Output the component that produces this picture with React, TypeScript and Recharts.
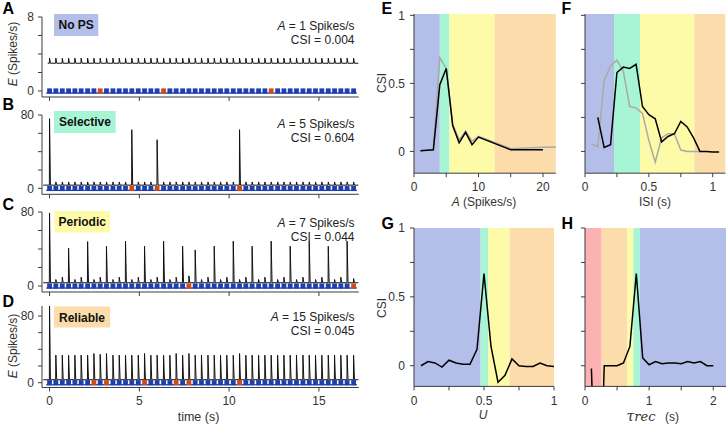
import React from 'react';
import { ComposedChart, Line, Scatter, XAxis, YAxis, ReferenceArea } from 'recharts';

const FONT = '"Liberation Sans", Arial, Helvetica, sans-serif';
const AX = '#3c3c3c';
const BLUE_SQ = '#1e3fae';
const RED_SQ = '#cf4b1b';
const C_BLUE = '#b3bee9';
const C_GREEN = '#a7f5d5';
const C_YELLOW = '#fdfba8';
const C_ORANGE = '#fcdcaa';
const C_RED = '#fcb2b2';

// ---- panels A-D : input spike times (s) ----
const spikeTimes = [0, 0.35, 0.71, 1.06, 1.41, 1.76, 2.12, 2.47, 2.82, 3.17, 3.53, 3.88, 4.23, 4.58, 4.94, 5.29, 5.64, 5.99, 6.35, 6.70, 7.05, 7.41, 7.76, 8.11, 8.46, 8.82, 9.17, 9.52, 9.87, 10.23, 10.58, 10.93, 11.28, 11.64, 11.99, 12.34, 12.70, 13.05, 13.40, 13.75, 14.11, 14.46, 14.81, 15.16, 15.52, 15.87, 16.22, 16.57, 16.93];

// peak E values (Spikes/s) at each input
const heightsA = [3.55, 3.55, 3.55, 3.55, 3.55, 3.55, 3.55, 3.55, 3.55, 3.55, 3.55, 3.55, 3.55, 3.55, 3.55, 3.55, 3.55, 3.55, 3.55, 3.55, 3.55, 3.55, 3.55, 3.55, 3.55, 3.55, 3.55, 3.55, 3.55, 3.55, 3.55, 3.55, 3.55, 3.55, 3.55, 3.55, 3.55, 3.55, 3.55, 3.55, 3.55, 3.55, 3.55, 3.55, 3.55, 3.55, 3.55, 3.55, 3.55];
const heightsB = [76, 7, 7, 7, 7, 7, 7, 7, 7, 7, 7, 7, 7, 64, 7, 7, 7, 53, 7, 7, 7, 7, 7, 7, 7, 7, 7, 7, 7, 7, 64, 7, 7, 7, 7, 7, 7, 7, 7, 7, 7, 7, 7, 7, 7, 7, 7, 7, 7];
const heightsC = [79, 7, 9.5, 41, 7, 9.5, 48, 7, 9.5, 43, 7, 9.5, 48.5, 7, 9.5, 43, 7, 9.5, 48.5, 7, 9.5, 43, 11, 39, 7, 9.5, 43, 7, 9.5, 48.5, 7, 9.5, 43, 7, 9.5, 48.5, 7, 9.5, 43, 7, 9.5, 48.5, 7, 9.5, 43, 7, 9.5, 48.5, 8];
const heightsD = [92, 33, 33, 33, 33, 33, 33, 35, 34, 35, 33, 33, 33, 33, 33, 35, 33, 33, 33, 33, 35, 33, 35, 33, 33, 33, 33, 33, 33, 33, 35, 33, 33, 33, 33, 33, 33, 33, 33, 33, 33, 33, 33, 33, 33, 33, 33, 33, 33];
const baseA = 3.0;
const baseBCD = 3.5;
// indices of inputs marked red (population spikes)
const redA = [8, 18, 35];
const redB = [13, 17, 30];
const redC = [22, 48];
const redD = [7, 9, 15, 20, 22, 30];

// ---- panel E ----
const eBlackX = [1, 3, 4, 5, 6, 7, 8, 9, 10, 15, 20];
const eBlackY = [0.005, 0.012, 0.49, 0.61, 0.19, 0.063, 0.14, 0.05, 0.105, 0.012, 0.012];
const eGrayX = [1, 3, 4, 5, 6, 7, 8, 9, 10, 15, 20, 25];
const eGrayY = [0.005, 0.012, 0.69, 0.61, 0.2, 0.085, 0.15, 0.075, 0.11, 0.02, 0.03, 0.035];
// ---- panel F ----
const fBlackX = [0.1, 0.15, 0.2, 0.25, 0.3, 0.35, 0.4, 0.45, 0.5, 0.55, 0.6, 0.65, 0.7, 0.75, 0.8, 0.85, 0.9, 0.95, 1.0, 1.05];
const fBlackY = [0.25, 0.03, 0.05, 0.58, 0.62, 0.61, 0.64, 0.33, 0.27, 0.24, 0.07, 0.11, 0.13, 0.22, 0.18, 0.1, 0.0, 0.0, -0.005, -0.005];
const fGrayX = [0.05, 0.1, 0.15, 0.2, 0.25, 0.3, 0.35, 0.4, 0.45, 0.5, 0.55, 0.6, 0.65, 0.7, 0.75, 0.8, 0.85, 0.9];
const fGrayY = [0.055, 0.035, 0.52, 0.63, 0.67, 0.59, 0.33, 0.32, 0.28, 0.08, -0.08, 0.1, 0.13, 0.13, 0.01, 0.0, 0.0, 0.0];
// ---- panel G ----
const gX = [0.05, 0.1, 0.15, 0.2, 0.25, 0.3, 0.35, 0.4, 0.45, 0.5, 0.55, 0.6, 0.65, 0.7, 0.75, 0.8, 0.85, 0.9, 0.95, 1.0];
const gY = [0, 0.03, 0.02, -0.01, 0.04, 0.02, 0.01, 0.01, 0.12, 0.67, 0.14, -0.12, -0.07, 0.05, 0.0, -0.005, -0.005, 0.02, 0.0, -0.005];
// ---- panel H ----
const hX = [0.1, 0.2, 0.3, 0.4, 0.5, 0.6, 0.7, 0.8, 0.9, 1.0, 1.1, 1.2, 1.3, 1.4, 1.5, 1.6, 1.7, 1.8, 1.9, 2.0];
const hY = [-0.02, -1.5, 0, 0, 0, 0.02, 0.14, 0.67, 0.056, 0.007, 0.03, 0.015, 0.02, 0.02, 0.015, 0.03, 0.02, 0.03, 0, 0];

type Band = [number, number, string];
const bandsE: Band[] = [[0, 4, C_BLUE], [4, 5.5, C_GREEN], [5.5, 12.5, C_YELLOW], [12.5, 22, C_ORANGE]];
const bandsF: Band[] = [[0, 0.227, C_BLUE], [0.227, 0.431, C_GREEN], [0.431, 0.856, C_YELLOW], [0.856, 1.1, C_ORANGE]];
const bandsG: Band[] = [[0, 0.476, C_BLUE], [0.476, 0.529, C_GREEN], [0.529, 0.683, C_YELLOW], [0.683, 1, C_ORANGE]];
const bandsH: Band[] = [[0, 0.26, C_RED], [0.26, 0.66, C_ORANGE], [0.66, 0.753, C_YELLOW], [0.753, 0.857, C_GREEN], [0.857, 2.2, C_BLUE]];

const tickStyle = { fontSize: 12, fill: '#333', fontFamily: FONT };

function buildTrace(heights: number[], base: number, start: number, end: number) {
  const pts: { t: number; v: number }[] = [{ t: start, v: base }];
  heights.forEach((h, i) => {
    const t = spikeTimes[i];
    pts.push({ t: t - 0.01, v: base }, { t, v: h }, { t: t + 0.05, v: base });
  });
  pts.push({ t: end, v: base });
  return pts;
}

function squares(reds: number[], wantRed: boolean) {
  return spikeTimes
    .map((t, i) => ({ t, y: 0, i }))
    .filter((d) => reds.includes(d.i) === wantRed);
}

const makeSquare = (color: string) => (props: any) => {
  const { cx, cy } = props;
  if (cx == null || cy == null) return <g />;
  return (
    <g>
      <rect x={cx - 3.3} y={cy + 1.4} width={6.6} height={1.3} fill={BLUE_SQ} />
      <rect x={cx - 2.4} y={cy - 2.6} width={4.8} height={5.2} fill={color} />
    </g>
  );
};
const BlueSquare = makeSquare(BLUE_SQ);
const RedSquare = makeSquare(RED_SQ);

type LeftProps = {
  plotTop: number;
  plotBottom: number;
  yDomain: [number, number];
  yTicks: number[];
  yLabeled: number[];
  heights: number[];
  base: number;
  reds: number[];
  showX: boolean;
  start: number;
};

function LeftPanel(p: LeftProps) {
  const W = 42, mt = 10, mr = 10, xh = 30;
  const px0 = 41.5, px1 = 358.3;
  const width = px1 - px0 + W + mr;
  const height = p.plotBottom - p.plotTop + mt + xh;
  const trace = buildTrace(p.heights, p.base, p.start, 17.2);
  return (
    <div style={{ position: 'absolute', left: px0 - W, top: p.plotTop - mt }}>
      <ComposedChart width={width} height={height} margin={{ top: mt, right: mr, left: 0, bottom: 0 }}>
        <XAxis type="number" dataKey="t" domain={[-0.42, 17.22]} allowDataOverflow ticks={[0, 5, 10, 15]} interval={0}
          tickSize={4} tickMargin={5} height={xh} tick={tickStyle}
          tickFormatter={(v: number) => (p.showX ? String(v) : '')}
          axisLine={{ stroke: AX }} tickLine={{ stroke: AX }} />
        <YAxis type="number" domain={p.yDomain} allowDataOverflow ticks={p.yTicks} interval={0} width={W}
          tickSize={4} tickMargin={4} tick={tickStyle}
          tickFormatter={(v: number) => (p.yLabeled.includes(v) ? String(v) : '')}
          axisLine={{ stroke: AX }} tickLine={{ stroke: AX }} />
        <Line data={trace} dataKey="v" type="linear" stroke="#111" strokeWidth={1} dot={false} isAnimationActive={false} />
        <Scatter data={squares(p.reds, false)} dataKey="y" shape={BlueSquare} isAnimationActive={false} />
        <Scatter data={squares(p.reds, true)} dataKey="y" shape={RedSquare} isAnimationActive={false} />
      </ComposedChart>
    </div>
  );
}

type Series = { x: number[]; y: number[]; color: string };
type RightProps = {
  px0: number; px1: number; py0: number; py1: number;
  xDomain: [number, number]; xTicks: number[]; xLabeled: number[];
  yDomain: [number, number]; yLabeled: boolean;
  bands: Band[]; series: Series[]; xMargin: number;
};

function RightPanel(p: RightProps) {
  const W = 40, mt = 10, mr = 10, xh = 30;
  const width = p.px1 - p.px0 + W + mr;
  const height = p.py1 - p.py0 + mt + xh;
  return (
    <div style={{ position: 'absolute', left: p.px0 - W, top: p.py0 - mt }}>
      <ComposedChart width={width} height={height} margin={{ top: mt, right: mr, left: 0, bottom: 0 }}>
        <XAxis type="number" dataKey="t" domain={p.xDomain} allowDataOverflow ticks={p.xTicks} interval={0}
          tickSize={4} tickMargin={p.xMargin} height={xh} tick={tickStyle}
          tickFormatter={(v: number) => (p.xLabeled.includes(v) ? String(v) : '')}
          axisLine={{ stroke: AX }} tickLine={{ stroke: AX }} />
        <YAxis type="number" domain={p.yDomain} allowDataOverflow ticks={[0, 0.25, 0.5, 0.75, 1]} interval={0} width={W}
          tickSize={4} tickMargin={5} tick={tickStyle}
          tickFormatter={(v: number) => (p.yLabeled && (v === 0 || v === 0.5 || v === 1) ? String(v) : '')}
          axisLine={{ stroke: AX }} tickLine={{ stroke: AX }} />
        {p.bands.map(([a, b, c], i) => (
          <ReferenceArea key={i} x1={a} x2={b} fill={c} fillOpacity={1} stroke="none" ifOverflow="hidden" />
        ))}
        {p.series.map((s, i) => (
          <Line key={i} data={s.x.map((t, j) => ({ t, v: s.y[j] }))} dataKey="v" type="linear"
            stroke={s.color} strokeWidth={1.5} dot={false} isAnimationActive={false} />
        ))}
      </ComposedChart>
    </div>
  );
}

const GRAY = '#a9a9a9';
const BLACK = '#000';

function Overlay() {
  const letter = { fontSize: 16, fontWeight: 700, fill: '#000', fontFamily: FONT } as const;
  const boxText = { fontSize: 12, fontWeight: 700, fill: '#111', fontFamily: FONT } as const;
  const ann = { fontSize: 12, fill: '#222', fontFamily: FONT } as const;
  const lab = { fontSize: 12, fill: '#333', fontFamily: FONT } as const;
  return (
    <svg width={728} height={427} style={{ position: 'absolute', left: 0, top: 0, pointerEvents: 'none' }}>
      <text x={2.5} y={13.5} {...letter}>A</text>
      <text x={2.5} y={110} {...letter}>B</text>
      <text x={2.5} y={210} {...letter}>C</text>
      <text x={2.5} y={306.5} {...letter}>D</text>
      <text x={381.5} y={13.5} {...letter}>E</text>
      <text x={561.5} y={13.5} {...letter}>F</text>
      <text x={381.5} y={228.5} {...letter}>G</text>
      <text x={561.5} y={228.5} {...letter}>H</text>

      <rect x={54} y={14} width={44.3} height={22} fill={C_BLUE} />
      <text x={76.2} y={29.3} textAnchor="middle" {...boxText}>No PS</text>
      <rect x={54} y={111} width={61.7} height={22} fill={C_GREEN} />
      <text x={84.9} y={126.3} textAnchor="middle" {...boxText}>Selective</text>
      <rect x={54.5} y={211} width={55.5} height={21.5} fill={C_YELLOW} />
      <text x={82.3} y={226} textAnchor="middle" {...boxText}>Periodic</text>
      <rect x={54} y={306.5} width={56} height={21} fill={C_ORANGE} />
      <text x={82} y={321.5} textAnchor="middle" {...boxText}>Reliable</text>

      <text x={354.5} y={29.5} textAnchor="end" {...ann}><tspan fontStyle="italic">A</tspan>{' = 1 Spikes/s'}</text>
      <text x={354.5} y={43.8} textAnchor="end" {...ann}>CSI = 0.004</text>
      <text x={354.5} y={127.8} textAnchor="end" {...ann}><tspan fontStyle="italic">A</tspan>{' = 5 Spikes/s'}</text>
      <text x={354.5} y={141.8} textAnchor="end" {...ann}>CSI = 0.604</text>
      <text x={354.5} y={227} textAnchor="end" {...ann}><tspan fontStyle="italic">A</tspan>{' = 7 Spikes/s'}</text>
      <text x={354.5} y={241} textAnchor="end" {...ann}>CSI = 0.044</text>
      <text x={354.5} y={320.5} textAnchor="end" {...ann}><tspan fontStyle="italic">A</tspan>{' = 15 Spikes/s'}</text>
      <text x={354.5} y={335} textAnchor="end" {...ann}>CSI = 0.045</text>

      <text transform="translate(17,54) rotate(-90)" textAnchor="middle" {...lab}><tspan fontStyle="italic">E</tspan>{' (Spikes/s)'}</text>
      <text transform="translate(17,346) rotate(-90)" textAnchor="middle" {...lab}><tspan fontStyle="italic">E</tspan>{' (Spikes/s)'}</text>
      <text x={198.5} y={421} textAnchor="middle" {...lab} fontSize={12.5}>time (s)</text>

      <text transform="translate(385.5,83) rotate(-90)" textAnchor="middle" {...lab}>CSI</text>
      <text transform="translate(385.5,308) rotate(-90)" textAnchor="middle" {...lab}>CSI</text>
      <text x={484} y={205.5} textAnchor="middle" {...lab}><tspan fontStyle="italic">A</tspan>{' (Spikes/s)'}</text>
      <text x={655} y={205.5} textAnchor="middle" {...lab}>ISI (s)</text>
      <text x={483} y={419} textAnchor="middle" {...lab} fontStyle="italic">U</text>
      <text x={626.5} y={421} fontFamily='"DejaVu Serif", "Liberation Serif", serif' fontStyle="italic" fontSize={14} fill="#333">τ<tspan fontSize={13}>rec</tspan></text>
      <text x={665} y={421} {...lab}>(s)</text>
    </svg>
  );
}

export default function App() {
  return (
    <div style={{ position: 'absolute', left: 0, top: 0, width: 728, height: 427, background: '#fff', fontFamily: FONT, overflow: 'hidden' }}>
      <LeftPanel plotTop={16.7} plotBottom={96.7} yDomain={[-0.65, 8]} yTicks={[0, 2, 4, 6, 8]} yLabeled={[0, 8]}
        heights={heightsA} base={baseA} reds={redA} showX={false} start={-0.1} />
      <LeftPanel plotTop={115} plotBottom={194.3} yDomain={[-6.5, 80]} yTicks={[0, 20, 40, 60, 80]} yLabeled={[0, 80]}
        heights={heightsB} base={baseBCD} reds={redB} showX={false} start={-0.35} />
      <LeftPanel plotTop={212} plotBottom={292} yDomain={[-6.5, 80]} yTicks={[0, 20, 40, 60, 80]} yLabeled={[0, 80]}
        heights={heightsC} base={baseBCD} reds={redC} showX={false} start={-0.35} />
      <LeftPanel plotTop={306} plotBottom={387.5} yDomain={[-5.8, 92]} yTicks={[0, 20, 40, 60, 80]} yLabeled={[0, 80]}
        heights={heightsD} base={baseBCD} reds={redD} showX={true} start={-0.35} />

      <RightPanel px0={414.3} px1={556.2} py0={13.6} py1={172.8} xDomain={[0, 22]} xTicks={[0, 5, 10, 15, 20]} xLabeled={[0, 10, 20]}
        yDomain={[-0.16, 1.01]} yLabeled={true} bands={bandsE} xMargin={5}
        series={[{ x: eGrayX, y: eGrayY, color: GRAY }, { x: eBlackX, y: eBlackY, color: BLACK }]} />
      <RightPanel px0={585} px1={725.5} py0={13.6} py1={172.8} xDomain={[0, 1.1]} xTicks={[0, 0.25, 0.5, 0.75, 1]} xLabeled={[0, 0.5, 1]}
        yDomain={[-0.16, 1.01]} yLabeled={false} bands={bandsF} xMargin={5}
        series={[{ x: fGrayX, y: fGrayY, color: GRAY }, { x: fBlackX, y: fBlackY, color: BLACK }]} />
      <RightPanel px0={414.3} px1={554.3} py0={228.3} py1={386.7} xDomain={[0, 1]} xTicks={[0, 0.25, 0.5, 0.75, 1]} xLabeled={[0, 0.5, 1]}
        yDomain={[-0.15, 1]} yLabeled={true} bands={bandsG} xMargin={6}
        series={[{ x: gX, y: gY, color: BLACK }]} />
      <RightPanel px0={585} px1={726.1} py0={228.3} py1={386.7} xDomain={[0, 2.2]} xTicks={[0, 0.5, 1, 1.5, 2]} xLabeled={[0, 1, 2]}
        yDomain={[-0.15, 1]} yLabeled={false} bands={bandsH} xMargin={6}
        series={[{ x: hX, y: hY, color: BLACK }]} />

      <Overlay />
    </div>
  );
}
